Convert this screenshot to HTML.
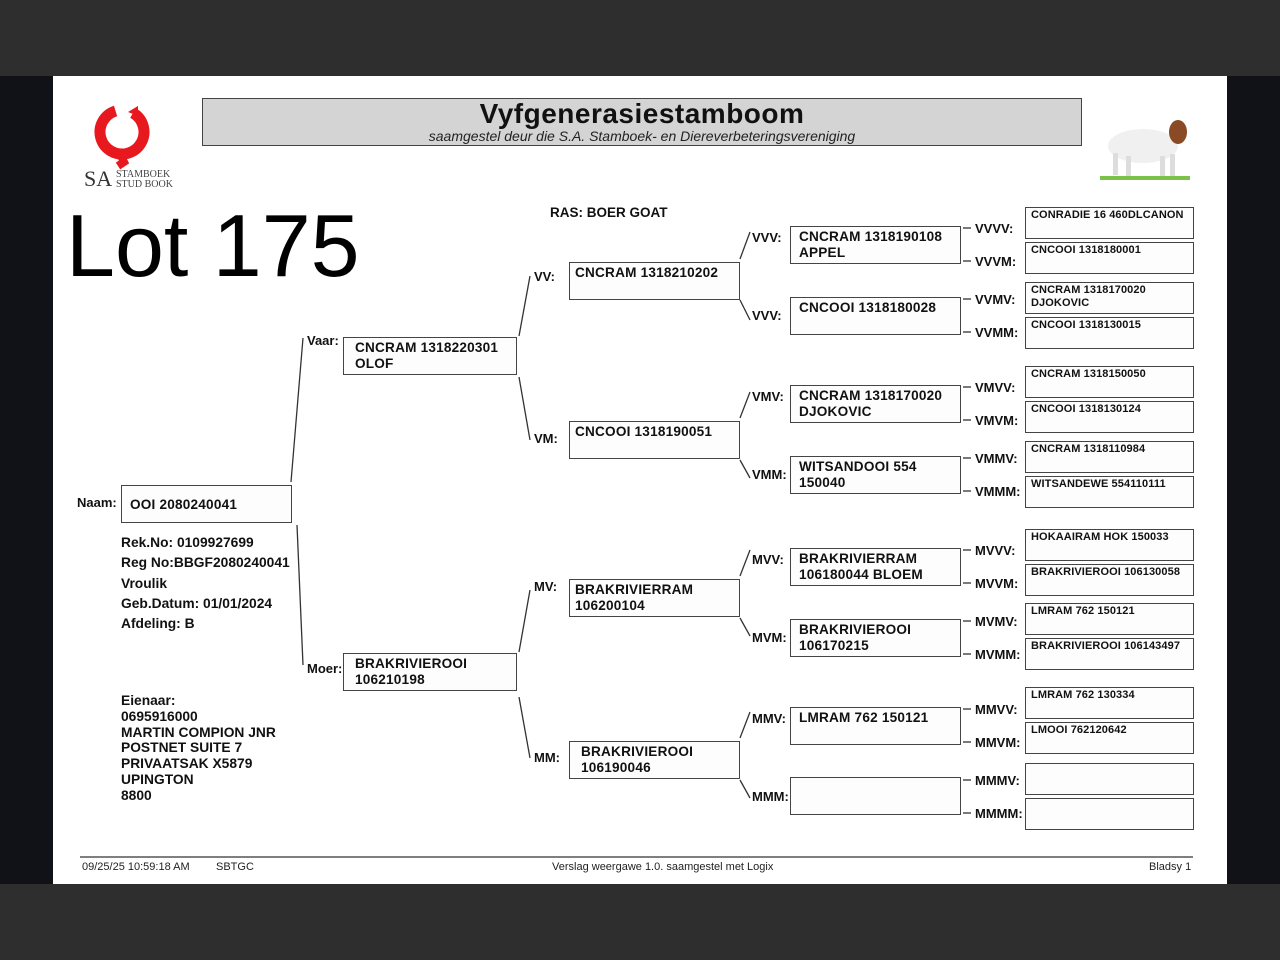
<!DOCTYPE html>
<html><head><meta charset="utf-8"><style>
body{margin:0;width:1280px;height:960px;background:#2e2e2e;position:relative;overflow:hidden;font-family:"Liberation Sans",Arial,sans-serif;}
.side{position:absolute;top:76px;height:808px;background:#111217}
#page{position:absolute;left:53px;top:76px;width:1174px;height:808px;background:#fff}
.a{position:absolute;font-weight:bold;color:#111;white-space:nowrap}
.b{position:absolute;border:1.5px solid #444;background:#fdfdfd;box-sizing:border-box;font-weight:bold;color:#111;font-size:13.6px;line-height:16px;padding:2px 8px;white-space:nowrap;letter-spacing:0.2px}
.g3{left:790px;width:171px;height:38px}
.g4{left:1025px;width:169px;height:32px;font-size:11px;line-height:13px;padding:1px 5px;letter-spacing:0.1px}
.g2{left:569px;width:171px;height:38px;padding-left:5px}
.l{position:absolute;font-weight:bold;font-size:13px;color:#111}
.ft{position:absolute;top:861px;font-size:11px;color:#222}
</style></head><body>
<div class="side" style="left:0;width:53px"></div>
<div class="side" style="left:1227px;width:53px"></div>
<div id="page"></div>

<!-- logo -->
<svg style="position:absolute;left:80px;top:100px" width="100" height="95">
<circle cx="42" cy="32" r="22" fill="none" stroke="#e8191e" stroke-width="11" stroke-dasharray="120 18" transform="rotate(-60 42 32)"/>
<path d="M38 50 L44 62 L38 66" stroke="#e8191e" stroke-width="8" fill="none"/>
<path d="M48 12 L58 6 L58 16 Z" fill="#e8191e"/>
<text x="4" y="86" font-family="Liberation Serif,serif" font-size="22" fill="#333">SA</text>
<text x="36" y="77" font-family="Liberation Serif,serif" font-size="10" fill="#444">STAMBOEK</text>
<text x="36" y="87" font-family="Liberation Serif,serif" font-size="10" fill="#444">STUD BOOK</text>
</svg>

<!-- title -->
<div style="position:absolute;left:202px;top:98px;width:880px;height:48px;background:#d4d4d4;border:1.5px solid #444;box-sizing:border-box;text-align:center">
<div style="font-weight:bold;font-size:28px;line-height:28px;margin-top:1px;color:#111;letter-spacing:0.5px">Vyfgenerasiestamboom</div>
<div style="font-style:italic;font-size:14px;line-height:16px;color:#222">saamgestel deur die S.A. Stamboek- en Diereverbeteringsvereniging</div>
</div>

<!-- goat -->
<svg style="position:absolute;left:1098px;top:108px" width="95" height="75">
<rect x="2" y="68" width="90" height="4" fill="#7cc24a"/>
<ellipse cx="45" cy="38" rx="35" ry="17" fill="#f0f0f0"/>
<rect x="15" y="45" width="5" height="22" fill="#ddd"/><rect x="28" y="48" width="5" height="20" fill="#ddd"/>
<rect x="62" y="48" width="5" height="20" fill="#ddd"/><rect x="72" y="46" width="5" height="22" fill="#ddd"/>
<ellipse cx="80" cy="24" rx="9" ry="12" fill="#8a4a25"/>
</svg>

<div class="a" style="left:66px;top:196px;font-size:88px;font-weight:normal;line-height:100px;color:#000">Lot 175</div>
<div class="a" style="left:550px;top:205px;font-size:13.5px">RAS: BOER GOAT</div>

<svg style="position:absolute;left:0;top:0" width="1280" height="960">
<g stroke="#333" stroke-width="1.3" fill="none">
<line x1="291" y1="482" x2="303" y2="338"/><line x1="297" y1="525" x2="303" y2="665"/>
<line x1="519" y1="336" x2="530" y2="276"/><line x1="519" y1="377" x2="530" y2="440"/>
<line x1="519" y1="652" x2="530" y2="590"/><line x1="519" y1="697" x2="530" y2="758"/>
<line x1="740" y1="259" x2="750" y2="232"/><line x1="740" y1="300" x2="750" y2="320"/>
<line x1="740" y1="418" x2="750" y2="392"/><line x1="740" y1="460" x2="750" y2="478"/>
<line x1="740" y1="576" x2="750" y2="550"/><line x1="740" y1="618" x2="750" y2="636"/>
<line x1="740" y1="738" x2="750" y2="712"/><line x1="740" y1="780" x2="750" y2="798"/>
<line x1="80" y1="857" x2="1193" y2="857"/>
</g>
<g stroke="#333" stroke-width="1.3">
<line x1="963" y1="228" x2="971" y2="228"/><line x1="963" y1="261" x2="971" y2="261"/>
<line x1="963" y1="299" x2="971" y2="299"/><line x1="963" y1="332" x2="971" y2="332"/>
<line x1="963" y1="387" x2="971" y2="387"/><line x1="963" y1="420" x2="971" y2="420"/>
<line x1="963" y1="458" x2="971" y2="458"/><line x1="963" y1="491" x2="971" y2="491"/>
<line x1="963" y1="550" x2="971" y2="550"/><line x1="963" y1="583" x2="971" y2="583"/>
<line x1="963" y1="621" x2="971" y2="621"/><line x1="963" y1="654" x2="971" y2="654"/>
<line x1="963" y1="709" x2="971" y2="709"/><line x1="963" y1="742" x2="971" y2="742"/>
<line x1="963" y1="780" x2="971" y2="780"/><line x1="963" y1="813" x2="971" y2="813"/>
</g>
</svg>

<div class="l" style="left:77px;top:495px">Naam:</div>
<div class="b" style="left:121px;top:485px;width:171px;height:38px;padding-top:11px">OOI 2080240041</div>
<div class="a" style="left:121px;top:533px;font-size:13.8px;line-height:20.3px">Rek.No: 0109927699<br>Reg No:BBGF2080240041<br>Vroulik<br>Geb.Datum: 01/01/2024<br>Afdeling: B</div>
<div class="a" style="left:121px;top:693px;font-size:13.8px;line-height:15.8px">Eienaar:<br>0695916000<br>MARTIN COMPION JNR<br>POSTNET SUITE 7<br>PRIVAATSAK X5879<br>UPINGTON<br>8800</div>

<div class="l" style="left:307px;top:333px">Vaar:</div>
<div class="b" style="left:343px;top:337px;width:174px;height:38px;padding-left:11px">CNCRAM 1318220301<br>OLOF</div>
<div class="l" style="left:307px;top:661px">Moer:</div>
<div class="b" style="left:343px;top:653px;width:174px;height:38px;padding-left:11px">BRAKRIVIEROOI<br>106210198</div>

<div class="l" style="left:534px;top:269px">VV:</div><div class="b g2" style="top:262px">CNCRAM 1318210202</div>
<div class="l" style="left:534px;top:431px">VM:</div><div class="b g2" style="top:421px">CNCOOI 1318190051</div>
<div class="l" style="left:534px;top:579px">MV:</div><div class="b g2" style="top:579px">BRAKRIVIERRAM<br>106200104</div>
<div class="l" style="left:534px;top:750px">MM:</div><div class="b g2" style="top:741px;padding-left:11px">BRAKRIVIEROOI<br>106190046</div>

<div class="l" style="left:752px;top:230px">VVV:</div><div class="b g3" style="top:226px">CNCRAM 1318190108<br>APPEL</div>
<div class="l" style="left:752px;top:308px">VVV:</div><div class="b g3" style="top:297px">CNCOOI 1318180028</div>
<div class="l" style="left:752px;top:389px">VMV:</div><div class="b g3" style="top:385px">CNCRAM 1318170020<br>DJOKOVIC</div>
<div class="l" style="left:752px;top:467px">VMM:</div><div class="b g3" style="top:456px">WITSANDOOI 554<br>150040</div>
<div class="l" style="left:752px;top:552px">MVV:</div><div class="b g3" style="top:548px">BRAKRIVIERRAM<br>106180044 BLOEM</div>
<div class="l" style="left:752px;top:630px">MVM:</div><div class="b g3" style="top:619px">BRAKRIVIEROOI<br>106170215</div>
<div class="l" style="left:752px;top:711px">MMV:</div><div class="b g3" style="top:707px">LMRAM 762 150121</div>
<div class="l" style="left:752px;top:789px">MMM:</div><div class="b g3" style="top:777px"></div>

<div class="l" style="left:975px;top:221px">VVVV:</div><div class="b g4" style="top:207px">CONRADIE 16 460DLCANON</div>
<div class="l" style="left:975px;top:254px">VVVM:</div><div class="b g4" style="top:242px">CNCOOI 1318180001</div>
<div class="l" style="left:975px;top:292px">VVMV:</div><div class="b g4" style="top:282px">CNCRAM 1318170020<br>DJOKOVIC</div>
<div class="l" style="left:975px;top:325px">VVMM:</div><div class="b g4" style="top:317px">CNCOOI 1318130015</div>
<div class="l" style="left:975px;top:380px">VMVV:</div><div class="b g4" style="top:366px">CNCRAM 1318150050</div>
<div class="l" style="left:975px;top:413px">VMVM:</div><div class="b g4" style="top:401px">CNCOOI 1318130124</div>
<div class="l" style="left:975px;top:451px">VMMV:</div><div class="b g4" style="top:441px">CNCRAM 1318110984</div>
<div class="l" style="left:975px;top:484px">VMMM:</div><div class="b g4" style="top:476px">WITSANDEWE 554110111</div>
<div class="l" style="left:975px;top:543px">MVVV:</div><div class="b g4" style="top:529px">HOKAAIRAM HOK 150033</div>
<div class="l" style="left:975px;top:576px">MVVM:</div><div class="b g4" style="top:564px">BRAKRIVIEROOI 106130058</div>
<div class="l" style="left:975px;top:614px">MVMV:</div><div class="b g4" style="top:603px">LMRAM 762 150121</div>
<div class="l" style="left:975px;top:647px">MVMM:</div><div class="b g4" style="top:638px">BRAKRIVIEROOI 106143497</div>
<div class="l" style="left:975px;top:702px">MMVV:</div><div class="b g4" style="top:687px">LMRAM 762 130334</div>
<div class="l" style="left:975px;top:735px">MMVM:</div><div class="b g4" style="top:722px">LMOOI 762120642</div>
<div class="l" style="left:975px;top:773px">MMMV:</div><div class="b g4" style="top:763px"></div>
<div class="l" style="left:975px;top:806px">MMMM:</div><div class="b g4" style="top:798px"></div>

<div class="ft" style="left:82px">09/25/25 10:59:18 AM</div>
<div class="ft" style="left:216px">SBTGC</div>
<div class="ft" style="left:552px">Verslag weergawe 1.0. saamgestel met Logix</div>
<div class="ft" style="left:1149px">Bladsy 1</div>
</body></html>
